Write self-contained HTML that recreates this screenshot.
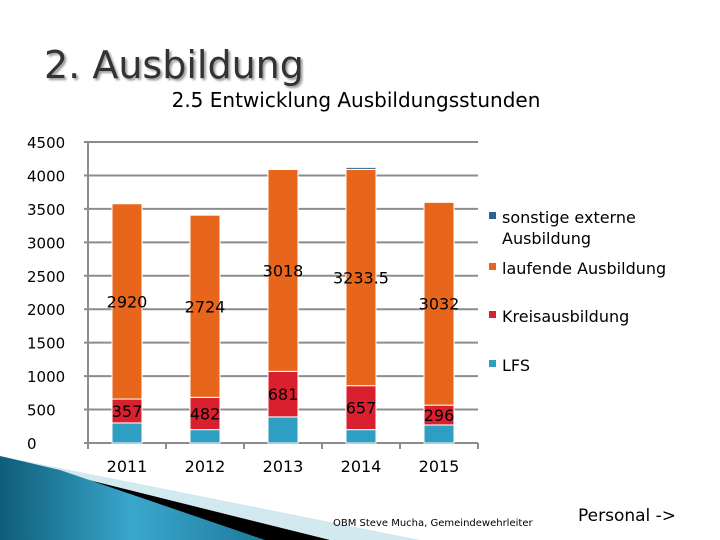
<!DOCTYPE html>
<html><head><meta charset="utf-8"><style>
body{margin:0;width:720px;height:540px;background:#fff;overflow:hidden;font-family:"DejaVu Sans","Liberation Sans",sans-serif}
svg{position:absolute;left:0;top:0}
</style></head><body>
<svg width="720" height="540">
<defs><linearGradient id="g" x1="0" y1="0" x2="1" y2="0"><stop offset="0" stop-color="#0e5d78"/><stop offset="0.5" stop-color="#3aa7cc"/><stop offset="1" stop-color="#1d7a9c"/></linearGradient></defs>
<polygon points="0,456 420,540 160,540" fill="#d3e9f0"/>
<polygon points="0,458 330,540 230,540" fill="#000"/>
<polygon points="0,456 0,540 265,540 60,470" fill="url(#g)"/>
<text x="44" y="78" font-size="38" fill="#333" font-family="DejaVu Sans, sans-serif" style="text-shadow:2px 2px 2px #999">2. Ausbildung</text>
<text x="356" y="107" text-anchor="middle" font-size="20" fill="#000">2.5 Entwicklung Ausbildungsstunden</text>
<g id="chart"></g>
<text x="333" y="526" font-size="10" fill="#000">OBM Steve Mucha, Gemeindewehrleiter</text>
<text x="578" y="521" font-size="17" fill="#000">Personal -&gt;</text>
</svg>
<script>
const categories=["2011","2012","2013","2014","2015"];
const lfs=[300,200,390,200,270];
const kreis=[357,482,681,657,296];
const laufend=[2920,2724,3018,3233.5,3032];
const sonstige=[0,0,10,30,0];
const yTicks=[0,500,1000,1500,2000,2500,3000,3500,4000,4500];
const series=[{n:"LFS",v:lfs,c:"#2e9fc2",lab:false},{n:"Kreisausbildung",v:kreis,c:"#d9202e",lab:true},{n:"laufende Ausbildung",v:laufend,c:"#e8661c",lab:true},{n:"sonstige externe Ausbildung",v:sonstige,c:"#2b6494",lab:false}];
const NS="http://www.w3.org/2000/svg",g=document.getElementById('chart');
const x0=88,x1=478,yb=443,yt=142;
const y=v=>yb-(v/4500)*(yb-yt);
const bw=(x1-x0)/categories.length;
const xc=i=>x0+bw*(i+0.5);
function mk(t,a){const e=document.createElementNS(NS,t);for(const k in a)e.setAttribute(k,a[k]);g.appendChild(e);return e;}
yTicks.forEach(t=>{
 const l=mk('line',{x1:x0-4,x2:x1,y1:y(t),y2:y(t),stroke:'#8c8c8c','stroke-width':2});
 
 
 const tx=mk('text',{x:27,y:y(t)+6,'font-size':15,fill:'#000'});tx.textContent=t;
 
 
});
const ax=mk('line',{x1:x0,x2:x0,y1:yt,y2:yb,stroke:'#8c8c8c','stroke-width':2});


for(let i=0;i<=categories.length;i++){const tk=mk('line',{x1:x0+bw*i,x2:x0+bw*i,y1:yb,y2:yb+6,stroke:'#8c8c8c','stroke-width':2});
 
 }
categories.forEach((c,i)=>{
 let acc=0;
 series.forEach(s=>{
  const v=s.v[i];if(v<=0)return;
  const r=mk('rect',{x:xc(i)-15,y:y(acc+v),width:30,height:y(acc)-y(acc+v),fill:s.c,stroke:'#fff','stroke-width':1});
  
  
  if(s.lab){const t=mk('text',{x:xc(i),y:y(acc+v/2)+6,'text-anchor':'middle','font-size':16,fill:'#000'});t.textContent=v;
   
   }
  acc+=v;
 });
 const t=mk('text',{x:xc(i),y:472,'text-anchor':'middle','font-size':16,fill:'#000'});t.textContent=c;
 
 
});
const leg=[[3,217],[2,268],[1,316],[0,365]];
leg.forEach(([k,yy])=>{
 const s=series[k];
 const r=mk('rect',{x:489,y:yy-5,width:7,height:7,fill:s.c});
 
 
 const t=mk('text',{x:502,y:yy+6,'font-size':16,fill:'#000'});
 
 
 if(k===3){t.textContent='sonstige externe';const t2=mk('text',{x:502,y:yy+27,'font-size':16,fill:'#000'});t2.textContent='Ausbildung';
  
  }
 else t.textContent=s.n;
});
</script>
</body></html>
